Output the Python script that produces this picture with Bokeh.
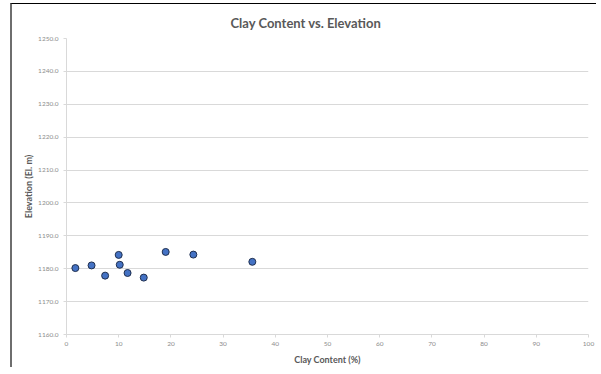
from bokeh.plotting import figure
from bokeh.models import Range1d, FixedTicker, NumeralTickFormatter, ColumnDataSource
from bokeh.embed import file_html
from bokeh.resources import INLINE

# Data
clay_content = [1.7, 4.8, 7.4, 10.0, 10.2, 11.7, 14.8, 19.0, 24.3, 35.6]
elevation = [1180.2, 1181.0, 1177.9, 1184.2, 1181.2, 1178.7, 1177.3, 1185.1, 1184.3, 1182.1]

x_ticks = [0, 10, 20, 30, 40, 50, 60, 70, 80, 90, 100]
y_ticks = [1160, 1170, 1180, 1190, 1200, 1210, 1220, 1230, 1240, 1250]

FONT = "Lato"
TEXT_GRAY = "#595959"
TICK_GRAY = "#8c8c8c"

p = figure(
    frame_width=522, frame_height=296,
    x_range=Range1d(x_ticks[0], x_ticks[-1]),
    y_range=Range1d(y_ticks[0], y_ticks[-1]),
    output_backend="svg", toolbar_location=None,
    min_border_left=54, min_border_right=8, min_border_top=34, min_border_bottom=28,
    title="Clay Content vs. Elevation",
)
p.styles = {
    "margin-left": "10px",
    "margin-top": "3px",
    "border-left": "2px solid #6e6e6e",
    "border-top": "1px solid #000000",
}

p.outline_line_color = None
p.background_fill_color = "white"
p.border_fill_color = "white"

p.title.text_font = FONT
p.title.text_font_size = "13px"
p.title.text_font_style = "bold"
p.title.text_color = TEXT_GRAY
p.title.align = "left"
p.title.offset = 164
p.title.standoff = 15

src = ColumnDataSource(dict(x=clay_content, y=elevation))
p.scatter("x", "y", source=src, size=7, fill_color="#4472C4", line_color="#1f2f4f", line_width=1)

p.xgrid.grid_line_color = None
p.ygrid.grid_line_color = "#d9d9d9"
p.ygrid.grid_line_width = 1

p.xaxis.ticker = FixedTicker(ticks=x_ticks)
p.yaxis.ticker = FixedTicker(ticks=y_ticks)
p.yaxis.formatter = NumeralTickFormatter(format="0.0")

for ax in (p.xaxis[0], p.yaxis[0]):
    ax.axis_line_color = "#d9d9d9"
    ax.major_tick_line_color = "#d9d9d9"
    ax.minor_tick_line_color = None
    ax.major_tick_in = 0
    ax.major_tick_out = 3
    ax.major_label_text_font = FONT
    ax.major_label_text_font_size = "6.5px"
    ax.major_label_text_color = TICK_GRAY
    ax.axis_label_text_font = FONT
    ax.axis_label_text_font_size = "9px"
    ax.axis_label_text_font_style = "bold"
    ax.axis_label_text_color = TEXT_GRAY

p.xaxis.axis_label = "Clay Content (%)"
p.yaxis.axis_label = "Elevation (El. m)"
p.xaxis.major_label_standoff = 4
p.yaxis.major_label_standoff = 5
p.xaxis.axis_label_standoff = 5
p.yaxis.axis_label_standoff = 1

open("out.html", "w").write(file_html(p, INLINE))
